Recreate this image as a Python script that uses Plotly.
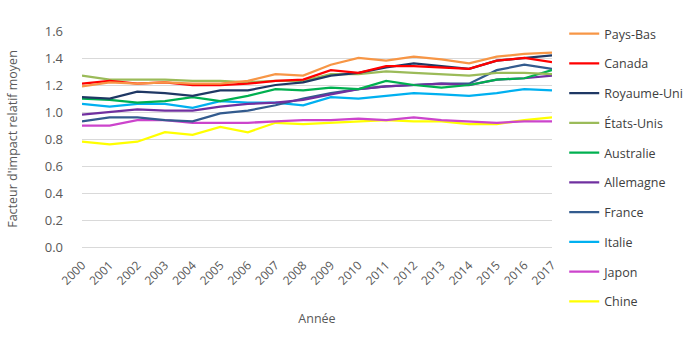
import plotly.graph_objects as go

# Years on the category axis
years = [str(y) for y in range(2000, 2018)]

# Average relative impact factor per country, 2000-2017
pays_bas = [1.19, 1.22, 1.21, 1.22, 1.21, 1.21, 1.23, 1.28, 1.27, 1.35, 1.40, 1.38, 1.41, 1.39, 1.36, 1.41, 1.43, 1.44]
canada = [1.21, 1.23, 1.21, 1.22, 1.20, 1.20, 1.21, 1.23, 1.24, 1.31, 1.29, 1.34, 1.34, 1.33, 1.32, 1.38, 1.40, 1.37]
royaume_uni = [1.11, 1.10, 1.15, 1.14, 1.12, 1.16, 1.16, 1.20, 1.22, 1.27, 1.29, 1.33, 1.36, 1.34, 1.32, 1.38, 1.40, 1.42]
etats_unis = [1.27, 1.24, 1.24, 1.24, 1.23, 1.23, 1.22, 1.23, 1.23, 1.28, 1.28, 1.30, 1.29, 1.28, 1.27, 1.29, 1.29, 1.28]
australie = [1.10, 1.09, 1.07, 1.08, 1.11, 1.08, 1.12, 1.17, 1.16, 1.18, 1.17, 1.23, 1.20, 1.18, 1.20, 1.24, 1.25, 1.31]
allemagne = [0.98, 1.00, 1.02, 1.01, 1.01, 1.04, 1.06, 1.07, 1.09, 1.13, 1.17, 1.19, 1.20, 1.21, 1.20, 1.24, 1.25, 1.27]
france = [0.93, 0.96, 0.96, 0.94, 0.93, 0.99, 1.01, 1.05, 1.10, 1.14, 1.17, 1.19, 1.20, 1.21, 1.21, 1.31, 1.35, 1.32]
italie = [1.06, 1.04, 1.06, 1.06, 1.03, 1.08, 1.07, 1.07, 1.05, 1.11, 1.10, 1.12, 1.14, 1.13, 1.12, 1.14, 1.17, 1.16]
japon = [0.90, 0.90, 0.94, 0.94, 0.92, 0.92, 0.92, 0.93, 0.94, 0.94, 0.95, 0.94, 0.96, 0.94, 0.93, 0.92, 0.93, 0.93]
chine = [0.78, 0.76, 0.78, 0.85, 0.83, 0.89, 0.85, 0.92, 0.91, 0.92, 0.93, 0.94, 0.93, 0.93, 0.91, 0.91, 0.94, 0.96]

countries = ["Pays-Bas", "Canada", "Royaume-Uni", "États-Unis", "Australie",
             "Allemagne", "France", "Italie", "Japon", "Chine"]
series = [pays_bas, canada, royaume_uni, etats_unis, australie,
          allemagne, france, italie, japon, chine]
colors = ["#F79646", "#FF0000", "#1F3864", "#9BBB59", "#00B050",
          "#7030A0", "#335B8E", "#00B0F0", "#CC44CC", "#FFFF00"]

text_color = "#595959"
font_family = "Open Sans, Noto Sans, sans-serif"

fig = go.Figure()
# Draw from last to first so the first countries sit on top
for name, vals, col in reversed(list(zip(countries, series, colors))):
    fig.add_trace(go.Scatter(
        x=years, y=vals, name=name, mode="lines",
        line=dict(color=col, width=2.25),
        legendgroup=name, legendrank=countries.index(name),
    ))

fig.update_layout(
    width=700, height=350,
    margin=dict(l=76, r=137, t=31, b=103),
    paper_bgcolor="white", plot_bgcolor="white",
    font=dict(family=font_family, color=text_color, size=12),
    showlegend=True,
    legend=dict(
        x=1.026, xanchor="left", y=1.055, yanchor="top",
        font=dict(size=12.5, color="#404040"),
        traceorder="grouped", tracegroupgap=10.5,
        itemwidth=30,
        maxheight=345,
        bgcolor="rgba(0,0,0,0)",
    ),
    xaxis=dict(
        type="category",
        tickangle=-45,
        tickfont=dict(size=12, color=text_color),
        ticklabelstandoff=8,
        showgrid=False, showline=False, ticks="",
        title=dict(text="Année", font=dict(size=12.5, color=text_color), standoff=26),
    ),
    yaxis=dict(
        range=[0, 1.6], dtick=0.2, tickformat=".1f",
        showgrid=True, gridcolor="#D9D9D9", gridwidth=1,
        zeroline=True, zerolinecolor="#D9D9D9", zerolinewidth=1,
        showline=False, ticks="",
        ticklabelstandoff=18,
        tickfont=dict(size=13, color=text_color),
        title=dict(text="Facteur d'impact relatif moyen", font=dict(size=12.5, color=text_color), standoff=24),
    ),
)

fig.write_html("out.html")
